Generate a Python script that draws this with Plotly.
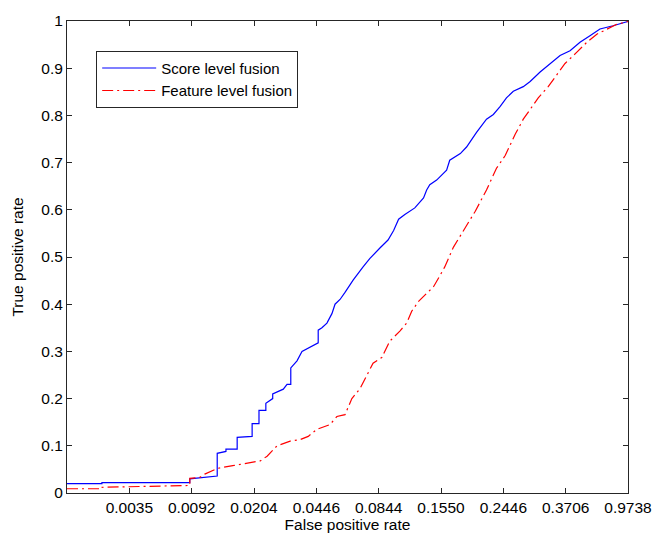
import plotly.graph_objects as go

# Evenly spaced FPR tick labels (axis positions 1..9)
x_tick_labels = ["0.0035", "0.0092", "0.0204", "0.0446", "0.0844",
                 "0.1550", "0.2446", "0.3706", "0.9738"]
x_tick_pos = [1, 2, 3, 4, 5, 6, 7, 8, 9]

# Score level fusion (positions on the evenly spaced FPR axis, TPR)
score_x = [0, 0.56, 0.56, 1.97, 1.97, 2.41, 2.41, 2.55, 2.55, 2.73, 2.73, 2.97, 2.97,
           3.08, 3.08, 3.19, 3.19, 3.30, 3.30, 3.47, 3.53, 3.59, 3.59, 3.69, 3.77,
           3.85, 3.93, 4.03, 4.03, 4.09, 4.17, 4.25, 4.30, 4.38, 4.46, 4.59, 4.75,
           4.86, 5.02, 5.15, 5.24, 5.32, 5.42, 5.58, 5.72, 5.77, 5.82, 5.93, 6.09,
           6.14, 6.31, 6.41, 6.57, 6.73, 6.84, 6.95, 7.05, 7.16, 7.32, 7.43, 7.59,
           7.75, 7.91, 8.07, 8.23, 8.39, 8.55, 8.76, 9.0]
score_y = [0.020, 0.020, 0.022, 0.022, 0.030, 0.036, 0.084, 0.088, 0.093, 0.093, 0.118,
           0.120, 0.147, 0.147, 0.175, 0.175, 0.190, 0.200, 0.210, 0.220, 0.230, 0.230,
           0.265, 0.280, 0.300, 0.305, 0.310, 0.318, 0.345, 0.350, 0.360, 0.380, 0.400,
           0.410, 0.425, 0.451, 0.479, 0.497, 0.519, 0.536, 0.556, 0.580, 0.590, 0.604,
           0.625, 0.642, 0.653, 0.663, 0.684, 0.705, 0.719, 0.733, 0.764, 0.792, 0.802,
           0.819, 0.837, 0.851, 0.861, 0.872, 0.892, 0.910, 0.927, 0.937, 0.955, 0.969,
           0.983, 0.990, 0.999]

# Feature level fusion
feat_x = [0, 0.53, 0.53, 1.38, 1.97, 1.97, 2.13, 2.21, 2.41, 2.66, 2.94, 3.10, 3.21,
          3.37, 3.58, 3.74, 3.87, 4.01, 4.22, 4.33, 4.46, 4.57, 4.70, 4.78, 4.86,
          4.91, 5.05, 5.18, 5.34, 5.45, 5.53, 5.64, 5.77, 5.88, 5.98, 6.06, 6.20,
          6.36, 6.55, 6.73, 6.89, 7.03, 7.19, 7.32, 7.43, 7.56, 7.72, 7.91, 7.99,
          8.18, 8.34, 8.50, 8.66, 8.82, 9.0]
feat_y = [0.009, 0.009, 0.012, 0.014, 0.016, 0.031, 0.033, 0.040, 0.052, 0.058, 0.065,
          0.068, 0.078, 0.100, 0.110, 0.113, 0.120, 0.135, 0.145, 0.162, 0.166, 0.200,
          0.221, 0.242, 0.263, 0.275, 0.287, 0.322, 0.343, 0.360, 0.385, 0.406, 0.423,
          0.437, 0.460, 0.479, 0.521, 0.556, 0.597, 0.642, 0.688, 0.715, 0.760, 0.792,
          0.812, 0.837, 0.861, 0.896, 0.910, 0.934, 0.955, 0.972, 0.983, 0.993, 0.999]

y_ticks = [0, 0.1, 0.2, 0.3, 0.4, 0.5, 0.6, 0.7, 0.8, 0.9, 1]
y_tick_labels = ["0", "0.1", "0.2", "0.3", "0.4", "0.5", "0.6", "0.7", "0.8", "0.9", "1"]

FONT = "Liberation Sans"
FS = 15.5

fig = go.Figure()
fig.add_trace(go.Scatter(x=score_x, y=score_y, mode="lines", name="Score level fusion",
                         line=dict(color="#0000ff", width=1.2)))
fig.add_trace(go.Scatter(x=feat_x, y=feat_y, mode="lines", name="Feature level fusion",
                         line=dict(color="#ff0000", width=1.2, dash="11px,4px,2px,4px")))

axis_common = dict(showline=True, linecolor="#262626", linewidth=1, mirror="ticks",
                   ticks="inside", ticklen=5, tickcolor="#262626", showgrid=False,
                   zeroline=False, tickfont=dict(family=FONT, size=FS, color="#000"))

fig.update_layout(
    width=669, height=540,
    margin=dict(l=67, r=41, t=16, b=43),
    paper_bgcolor="white", plot_bgcolor="white",
    font=dict(family=FONT, size=FS, color="#000"),
    xaxis=dict(range=[0, 9], tickvals=x_tick_pos, ticktext=x_tick_labels,
               title=dict(text="False positive rate", standoff=2,
                          font=dict(family=FONT, size=FS)),
               **axis_common),
    yaxis=dict(range=[0, 1], tickvals=y_ticks, ticktext=y_tick_labels,
               title=dict(text="True positive rate", standoff=13,
                          font=dict(family=FONT, size=FS)),
               **axis_common),
    legend=dict(x=0.052, y=0.937, xanchor="left", yanchor="top",
                bordercolor="#262626", borderwidth=1, bgcolor="white",
                font=dict(family=FONT, size=15),
                tracegroupgap=0, itemwidth=54),
    showlegend=True,
)

fig.write_html("out.html")
